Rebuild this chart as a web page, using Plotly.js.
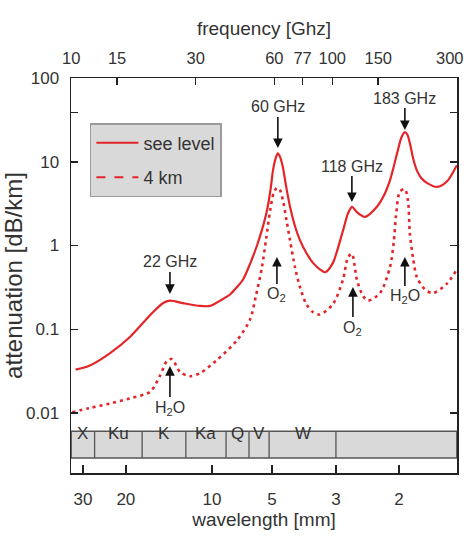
<!DOCTYPE html>
<html>
<head>
<meta charset="utf-8">
<script src="https://cdn.plot.ly/plotly-3.0.1.min.js"></script>
<style>html,body{margin:0;padding:0;background:#fff;}#chart{width:467px;height:539px;}</style>
</head>
<body>
<div id="chart"></div>
<script>
// ---- data ----
// frequency in GHz, attenuation in dB/km
var seaFreq = [10.4, 11.8, 14.1, 16.8, 20.1, 22.5, 23.9, 26.8, 31.2, 34.0, 37.2, 40.6, 43.2, 45.5, 48.4, 51.5, 54.0, 56.2, 58.0, 59.3, 60.7, 61.9, 63.2, 64.7, 66.5, 68.9, 72.0, 75.2, 79.5, 84.4, 89.7, 94.0, 100.6, 104.2, 109.9, 114.8, 119.0, 124.3, 133.4, 148.3, 158.0, 166.3, 172.0, 178.4, 184.0, 189.7, 194.0, 198.2, 204.0, 210.8, 220.0, 230.3, 251.6, 274.8, 300];
var seaAtt  = [0.033, 0.037, 0.052, 0.081, 0.148, 0.206, 0.22, 0.205, 0.19, 0.19, 0.22, 0.26, 0.32, 0.39, 0.6, 1.0, 1.6, 2.6, 4.6, 7.9, 11.0, 12.6, 11.3, 8.6, 5.2, 2.9, 1.7, 1.16, 0.82, 0.62, 0.52, 0.48, 0.62, 0.85, 1.5, 2.4, 2.9, 2.5, 2.2, 2.9, 4.0, 6.0, 8.8, 13.8, 19.5, 22.6, 21.0, 16.7, 11.0, 7.9, 6.3, 5.6, 5.0, 5.8, 9.1];

var highFreq = [10.1, 11.8, 14.1, 16.8, 20.1, 21.9, 23.3, 24.35, 26.1, 28.5, 31.2, 36.2, 43.2, 48.4, 51.0, 53.8, 55.8, 57.8, 59.6, 61.4, 63.0, 64.7, 66.8, 68.9, 72.0, 75.2, 79.5, 84.4, 89.7, 100.6, 109.9, 114.8, 118.9, 121.5, 124.3, 131.1, 137.0, 152.3, 166.3, 172.0, 175.3, 181.6, 189.7, 194.9, 198.2, 204.0, 210.8, 226.4, 242.9, 274.8, 300];
var highAtt  = [0.0102, 0.0115, 0.013, 0.015, 0.018, 0.028, 0.042, 0.044, 0.031, 0.0275, 0.030, 0.043, 0.074, 0.13, 0.25, 0.55, 1.2, 2.6, 4.2, 4.9, 4.6, 3.5, 2.0, 1.16, 0.55, 0.32, 0.2, 0.16, 0.15, 0.20, 0.39, 0.72, 0.8, 0.6, 0.39, 0.25, 0.22, 0.27, 0.55, 1.1, 2.2, 4.4, 4.7, 3.5, 1.4, 0.7, 0.42, 0.30, 0.27, 0.35, 0.52];

var seriesNames = ['see level', '4 km'];

// top axis: frequency ticks (the last one, at the frame corner, is labelled by an annotation kept inside the page)
var freqTicks = [10, 15, 30, 60, 77, 100, 150, 300];
var freqTickText = ['10', '15', '30', '60', '77', '100', '150', ' '];
var lastFreqLabel = '300';

// bottom axis: wavelength labels, at the frequencies where the original figure places them
var wavelengthLabels = ['30', '20', '10', '5', '3', '2'];
var wavelengthTickFreq = [11.1, 16.2, 34.6, 58.8, 103.3, 180.0];

// y ticks
var attTicks = [0.01, 0.1, 1, 10, 39, 100];
var attTickText = ['0.01', '0.1', '1', '10', ' ', '100'];

// frequency bands (GHz edges as drawn)
var bandEdges = [10, 12.3, 18.7, 27.5, 39.2, 48, 57.3, 103.3, 300];
var bandNames = ['X', 'Ku', 'K', 'Ka', 'Q', 'V', 'W', ''];

// peak labels (arrow pointing down onto the sea-level curve)
var peakLabels = ['22 GHz', '60 GHz', '118 GHz', '183 GHz'];
var peakFreq = [23.9, 61.9, 118.9, 189.7];
var peakTip = [0.264, 14.6, 3.30, 23.9];
// absorber labels (arrow pointing up to the 4 km curve)
var lineLabels = ['H<sub>2</sub>O', 'O<sub>2</sub>', 'O<sub>2</sub>', 'H<sub>2</sub>O'];
var lineFreq = [23.9, 61.4, 120.0, 189.7];
var lineTip = [0.0364, 0.73, 0.319, 0.73];

// ---- drawing ----
var RED = '#e42528';
var FONT = 'Liberation Sans Narrow, Arial Narrow, Liberation Sans, Arial, sans-serif';
var TXT = '#333333';
var AX = '#222222';

var traces = [
  {x: seaFreq, y: seaAtt, type: 'scatter', mode: 'lines', name: seriesNames[0], showlegend: false,
   line: {color: RED, width: 2.2, shape: 'spline', smoothing: 0.8}, hoverinfo: 'skip'},
  {x: highFreq, y: highAtt, type: 'scatter', mode: 'lines', name: seriesNames[1], showlegend: false,
   line: {color: RED, width: 2.6, dash: '3px,4px', shape: 'spline', smoothing: 0.8}, hoverinfo: 'skip'},
  {x: [null], y: [null], xaxis: 'x2', type: 'scatter', mode: 'lines', name: seriesNames[0], legendgroup: 'a',
   line: {color: RED, width: 2}},
  {x: [null], y: [null], xaxis: 'x2', type: 'scatter', mode: 'lines', name: seriesNames[1], legendgroup: 'b',
   line: {color: RED, width: 2, dash: 'dash'}}
];

var shapes = [];
var annotations = [];
var bandY0 = 0.038, bandY1 = 0.106;
shapes.push({type: 'rect', xref: 'x', yref: 'paper', x0: bandEdges[0], x1: bandEdges[bandEdges.length - 1],
  y0: bandY0, y1: bandY1, fillcolor: '#d9d9d9', line: {color: '#555', width: 1.5}, layer: 'below'});
for (var i = 0; i < bandNames.length; i++) {
  if (i > 0) {
    shapes.push({type: 'line', xref: 'x', yref: 'paper', x0: bandEdges[i], x1: bandEdges[i],
      y0: bandY0, y1: bandY1, line: {color: '#555', width: 1.3}});
  }
  if (bandNames[i]) {
    var c = (Math.log10(bandEdges[i]) + Math.log10(bandEdges[i + 1])) / 2;
    annotations.push({x: c, y: (bandY0 + bandY1) / 2, xref: 'x', yref: 'paper', text: bandNames[i],
      showarrow: false, font: {family: FONT, size: 17, color: TXT}});
  }
}
var peakOffsets = [-32, -41, -36, -32];
for (var j = 0; j < peakLabels.length; j++) {
  annotations.push({x: Math.log10(peakFreq[j]), y: Math.log10(peakTip[j]), xref: 'x', yref: 'y',
    text: peakLabels[j], showarrow: true, arrowhead: 2, arrowsize: 1.2, arrowwidth: 1.6, arrowcolor: '#111',
    ax: 0, ay: peakOffsets[j], font: {family: FONT, size: 16, color: TXT}});
}
var lineOffsets = [42, 38, 41, 40];
for (var k = 0; k < lineLabels.length; k++) {
  annotations.push({x: Math.log10(lineFreq[k]), y: Math.log10(lineTip[k]), xref: 'x', yref: 'y',
    text: lineLabels[k], showarrow: true, arrowhead: 2, arrowsize: 1.2, arrowwidth: 1.6, arrowcolor: '#111',
    ax: 0, ay: lineOffsets[k], font: {family: FONT, size: 16, color: TXT}});
}
// label of the last top tick, right-aligned at the page edge
annotations.push({x: 1.0225, y: 1.0506, xref: 'paper', yref: 'paper', xanchor: 'right', yanchor: 'middle',
  text: lastFreqLabel, showarrow: false, font: {family: FONT, size: 16.5, color: TXT}});

var xr = [0.9995, Math.log10(300) + 0.0006];
var layout = {
  width: 467, height: 539,
  margin: {l: 71, r: 10, t: 78, b: 66, pad: 0},
  paper_bgcolor: '#ffffff', plot_bgcolor: '#ffffff',
  font: {family: FONT, color: TXT, size: 17},
  showlegend: true,
  legend: {x: 0.049, y: 0.886, xanchor: 'left', yanchor: 'top', bgcolor: '#d9d9d9', bordercolor: '#9a9a9a',
    borderwidth: 1.5, itemwidth: 42, traceorder: 'grouped', tracegroupgap: 8,
    font: {family: FONT, size: 18, color: TXT}},
  xaxis: {type: 'log', range: xr, tickmode: 'array', tickvals: wavelengthTickFreq, ticktext: wavelengthLabels,
    ticks: 'inside', ticklen: 8, tickwidth: 1.5, tickcolor: AX, showline: true, linecolor: AX, linewidth: 1.5,
    showgrid: false, zeroline: false, ticklabelstandoff: 10, tickfont: {family: FONT, size: 17, color: TXT},
    title: {text: 'wavelength [mm]', font: {family: FONT, size: 19, color: TXT}, standoff: 4}},
  xaxis2: {type: 'log', range: xr, overlaying: 'x', side: 'top', tickmode: 'array', tickvals: freqTicks,
    ticktext: freqTickText, ticks: 'inside', ticklen: 7, tickwidth: 1.5, tickcolor: AX, showline: true,
    linecolor: AX, linewidth: 1.5, showgrid: false, zeroline: false, ticklabelstandoff: 6,
    ticklabeloverflow: 'allow', tickfont: {family: FONT, size: 16.5, color: TXT},
    title: {text: 'frequency [Ghz]', font: {family: FONT, size: 19, color: TXT}, standoff: 8}},
  yaxis: {type: 'log', range: [-2.716, 2], tickmode: 'array', tickvals: attTicks, ticktext: attTickText,
    ticks: 'inside', ticklen: 7, tickwidth: 1.5, tickcolor: AX, showline: true, mirror: 'ticks',
    linecolor: AX, linewidth: 1.5, showgrid: false, zeroline: false, ticklabelstandoff: 7,
    tickfont: {family: FONT, size: 17, color: TXT},
    title: {text: 'attenuation [dB/km]', font: {family: 'Liberation Sans, Arial, sans-serif', size: 24, color: TXT}, standoff: 6}},
  shapes: shapes,
  annotations: annotations
};

Plotly.newPlot('chart', traces, layout, {displayModeBar: false, staticPlot: true});
</script>
</body>
</html>
